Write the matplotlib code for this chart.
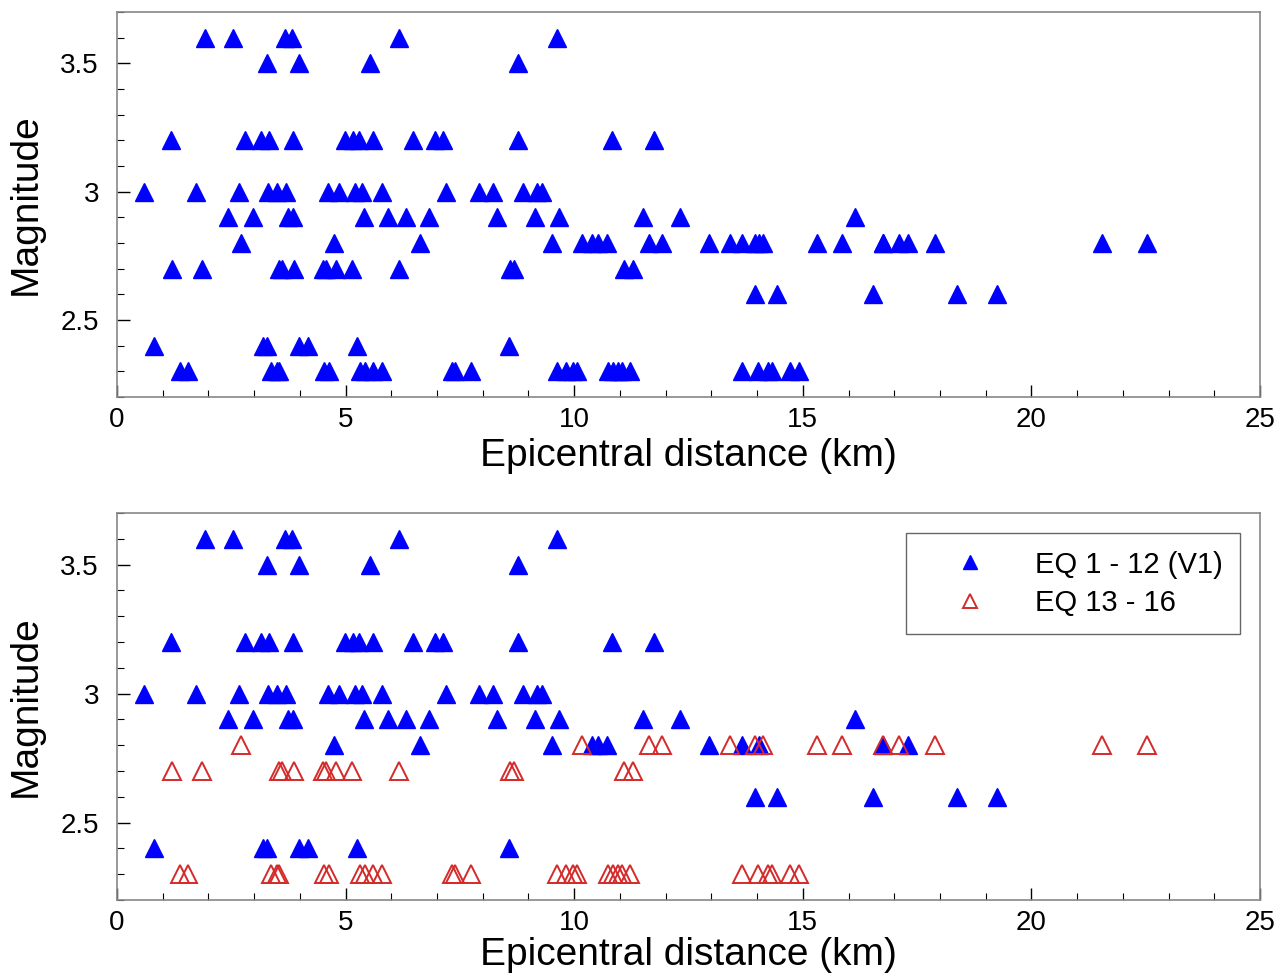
import matplotlib

matplotlib.use("Agg")
import matplotlib.pyplot as plt
from matplotlib.ticker import MultipleLocator, FormatStrFormatter

plt.rcParams["font.family"] = ["Liberation Sans", "DejaVu Sans"]

# EQ 1 - 12 (V1): epicentral distance (km) and magnitude
v1_dist = [1.92, 2.54, 3.67, 3.83, 6.17, 9.62,
           3.28, 3.98, 5.53, 8.77,
           1.18, 2.80, 3.15, 3.32, 3.85, 4.99, 5.16, 5.29, 5.60, 6.47, 6.96, 7.13, 8.77, 10.83, 11.75,
           0.59, 1.73, 2.67, 3.30, 3.50, 3.70, 4.62, 4.86, 5.21, 5.36, 5.80, 7.20, 7.92, 8.22, 8.88, 9.19, 9.30,
           2.43, 2.97, 3.74, 3.85, 5.40, 5.93, 6.32, 6.82, 8.31, 9.14, 9.67, 11.50, 12.31, 16.14,
           4.75, 6.63, 9.51, 10.40, 10.52, 10.72, 12.95, 13.67, 14.05, 16.76, 17.30,
           13.95, 14.44, 16.54, 18.37, 19.25,
           0.81, 3.19, 3.28, 3.98, 4.18, 5.25, 8.57]
v1_mag = ([3.6] * 6 + [3.5] * 4 + [3.2] * 15 + [3.0] * 17 + [2.9] * 14
          + [2.8] * 11 + [2.6] * 5 + [2.4] * 7)

# EQ 13 - 16
eq13_dist = [2.71, 10.17, 11.64, 11.92, 13.41, 13.95, 14.13, 15.31, 15.86, 16.76, 17.10, 17.89, 21.54, 22.53,
             1.20, 1.86, 3.55, 3.61, 3.87, 4.51, 4.57, 4.79, 5.14, 6.17, 8.60, 8.68, 11.09, 11.29,
             1.38, 1.55, 3.37, 3.50, 3.54, 4.53, 4.64, 5.31, 5.42, 5.60, 5.80, 7.33, 7.40, 7.74,
             9.62, 9.82, 9.98, 10.06, 10.74, 10.85, 10.96, 11.04, 11.22,
             13.67, 14.02, 14.24, 14.33, 14.72, 14.92]
eq13_mag = [2.8] * 14 + [2.7] * 14 + [2.3] * 29

BLUE = "#0000ff"
RED = "#d42a2a"
MS = 12.5


def style_axes(ax, xpad=4):
    ax.set_xlim(0, 25)
    ax.set_ylim(2.2, 3.7)
    ax.xaxis.set_major_locator(MultipleLocator(5))
    ax.xaxis.set_minor_locator(MultipleLocator(1))
    ax.yaxis.set_major_locator(MultipleLocator(0.5))
    ax.yaxis.set_minor_locator(MultipleLocator(0.1))
    ax.yaxis.set_major_formatter(FormatStrFormatter("%g"))
    ax.tick_params(which="both", direction="in", top=False, right=False, labelsize=20)
    ax.tick_params(which="major", length=9, width=1)
    ax.tick_params(which="minor", length=5, width=0.8)
    ax.tick_params(axis="x", pad=7)
    ax.tick_params(axis="y", pad=13)
    for s in ax.spines.values():
        s.set_color("#888888")
        s.set_linewidth(1.2)
    ax.set_xlabel("Epicentral distance (km)", fontsize=28, labelpad=xpad)
    ax.set_ylabel("Magnitude", fontsize=28, labelpad=12)


fig = plt.figure(figsize=(12.84, 9.74), dpi=100)
ax1 = fig.add_axes([0.0911, 0.5924, 0.8902, 0.3953])
ax2 = fig.add_axes([0.0911, 0.0760, 0.8902, 0.3973])

# top: all events together
ax1.plot(v1_dist + eq13_dist, v1_mag + eq13_mag, ls="none", marker="^",
         ms=MS, color=BLUE, mec=BLUE)
style_axes(ax1)

# bottom: split by group
ax2.plot(v1_dist, v1_mag, ls="none", marker="^", ms=MS, color=BLUE, mec=BLUE,
         label="EQ 1 - 12 (V1)")
ax2.plot(eq13_dist, eq13_mag, ls="none", marker="^", ms=MS, mfc="none", mec=RED,
         mew=1.4, label="EQ 13 - 16")
style_axes(ax2, xpad=1)

leg = ax2.legend(loc="upper right", bbox_to_anchor=(0.9825, 0.948), borderaxespad=0,
                 fontsize=21, fancybox=False, edgecolor="#666666", framealpha=1,
                 handlelength=3.2, handletextpad=0.62, borderpad=0.6, labelspacing=0.35,
                 markerscale=0.85)
leg.get_frame().set_linewidth(1.0)

fig.savefig("out.png", dpi=100)
